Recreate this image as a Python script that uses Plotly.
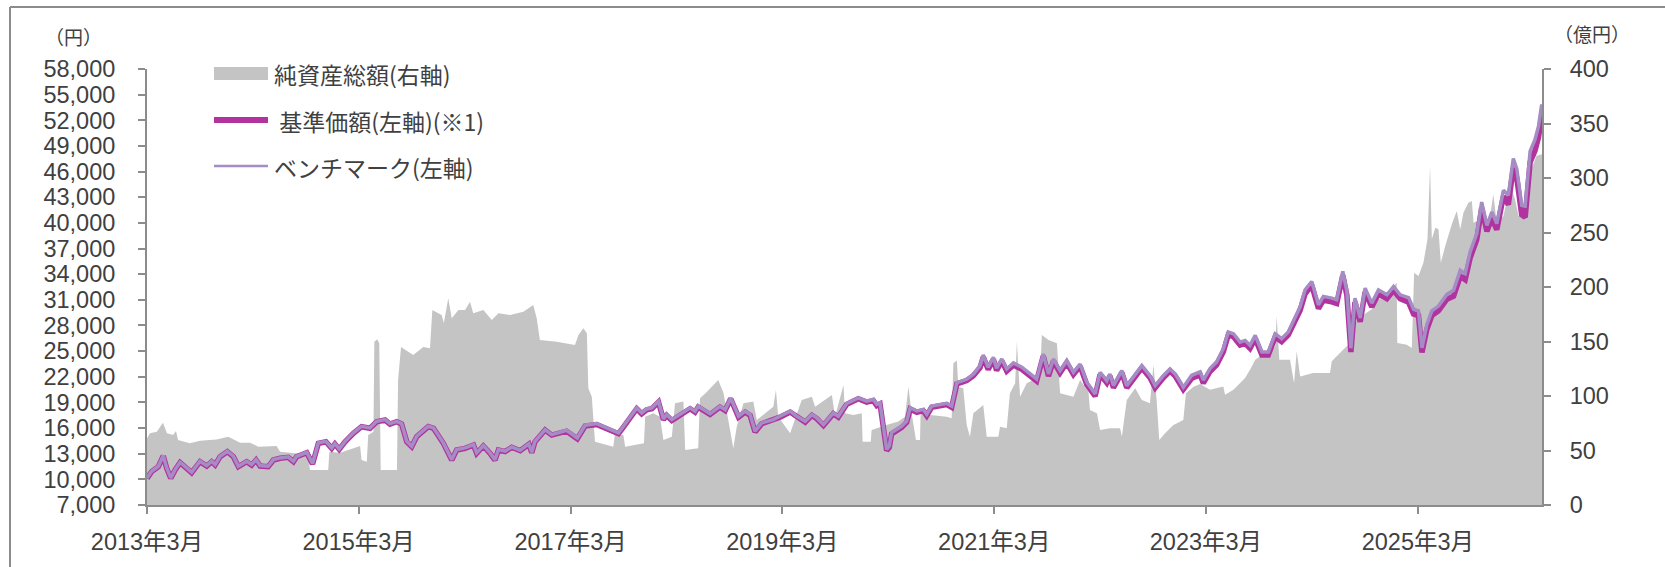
import plotly.graph_objects as go

# ---------------- data ----------------
# Net assets (億円, right axis)
na_dates = [
    "2013-03-01", "2013-03-11", "2013-04-04", "2013-04-25", "2013-05-09", "2013-05-30", "2013-06-09", "2013-06-16",
    "2013-07-27", "2013-08-31", "2013-10-27", "2013-12-06", "2014-01-16", "2014-02-19", "2014-03-20", "2014-05-22",
    "2014-06-03", "2014-07-24", "2014-08-22", "2014-09-08", "2014-09-14", "2014-11-16", "2014-11-20", "2014-12-27",
    "2015-02-11", "2015-03-06", "2015-03-11", "2015-03-29", "2015-04-03", "2015-04-21", "2015-04-24", "2015-05-04",
    "2015-05-11", "2015-05-16", "2015-07-11", "2015-07-15", "2015-07-25", "2015-09-05", "2015-10-10", "2015-11-02",
    "2015-11-10", "2015-12-12", "2015-12-20", "2016-01-04", "2016-01-16", "2016-02-08", "2016-03-02", "2016-03-19",
    "2016-03-30", "2016-05-04", "2016-06-02", "2016-06-25", "2016-08-04", "2016-09-19", "2016-10-23", "2016-11-04",
    "2016-11-15", "2017-01-12", "2017-03-16", "2017-03-28", "2017-04-14", "2017-04-26", "2017-05-01", "2017-05-13",
    "2017-05-24", "2017-07-26", "2017-08-01", "2017-08-30", "2017-09-05", "2017-11-09", "2017-11-13", "2017-12-11",
    "2018-01-03", "2018-01-15", "2018-02-13", "2018-02-24", "2018-03-25", "2018-03-31", "2018-05-15", "2018-05-21",
    "2018-06-11", "2018-07-23", "2018-08-10", "2018-09-13", "2018-09-25", "2018-10-18", "2018-11-21", "2018-12-03",
    "2019-01-29", "2019-02-07", "2019-02-15", "2019-03-28", "2019-05-07", "2019-06-11", "2019-06-22", "2019-07-26",
    "2019-08-19", "2019-08-30", "2019-09-28", "2019-10-03", "2019-11-01", "2019-11-30", "2019-12-03", "2019-12-31",
    "2020-01-03", "2020-02-24", "2020-04-04", "2020-04-27", "2020-05-09", "2020-05-20", "2020-06-04", "2020-06-18",
    "2020-06-20", "2020-07-23", "2020-09-18", "2020-10-05", "2020-10-11", "2020-10-23", "2020-10-28", "2020-11-14",
    "2020-11-26", "2020-12-07", "2020-12-19", "2021-01-22", "2021-02-03", "2021-03-15", "2021-03-21", "2021-04-13",
    "2021-04-24", "2021-05-12", "2021-05-18", "2021-05-29", "2021-06-21", "2021-08-06", "2021-08-12", "2021-09-04",
    "2021-10-03", "2021-10-14", "2021-11-29", "2021-12-22", "2022-01-20", "2022-01-25", "2022-02-18", "2022-03-01",
    "2022-04-04", "2022-05-09", "2022-05-15", "2022-06-01", "2022-06-30", "2022-07-23", "2022-08-20", "2022-09-01",
    "2022-09-12", "2022-09-21", "2022-10-11", "2022-11-09", "2022-12-13", "2022-12-22", "2023-01-17", "2023-02-09",
    "2023-03-15", "2023-04-30", "2023-05-06", "2023-06-04", "2023-07-14", "2023-07-31", "2023-08-18", "2023-09-04",
    "2023-10-08", "2023-10-26", "2023-10-31", "2023-11-09", "2023-12-16", "2023-12-30", "2024-01-08", "2024-01-20",
    "2024-03-05", "2024-05-02", "2024-05-08", "2024-06-05", "2024-07-10", "2024-08-02", "2024-09-06", "2024-09-29",
    "2024-10-16", "2024-11-14", "2024-12-07", "2024-12-18", "2024-12-20", "2025-01-22", "2025-02-08", "2025-02-16",
    "2025-03-03", "2025-03-20", "2025-04-03", "2025-04-12", "2025-04-18", "2025-04-30", "2025-05-11", "2025-05-19",
    "2025-06-03", "2025-06-26", "2025-07-13", "2025-07-25", "2025-08-05", "2025-08-22", "2025-09-03", "2025-09-09",
    "2025-10-02", "2025-10-19", "2025-11-05", "2025-11-16", "2025-11-28", "2025-12-21", "2026-01-13", "2026-01-30",
    "2026-02-11", "2026-03-06", "2026-03-23", "2026-04-14", "2026-05-03",
]
na_oku = [
    61.0, 65.8, 67.3, 75.5, 65.8, 64.2, 68.0, 59.6,
    56.6, 59.0, 60.2, 62.7, 57.2, 57.2, 53.5, 54.1,
    48.9, 47.4, 47.4, 44.3, 32.1, 32.1, 48.9, 48.0,
    52.0, 54.1, 41.3, 39.7, 64.2, 67.3, 149.8, 152.0,
    148.3, 32.1, 32.1, 115.0, 145.0, 137.6, 145.0, 143.7,
    178.9, 174.3, 167.0, 189.6, 171.3, 178.9, 178.9, 186.5,
    175.9, 178.9, 169.7, 175.9, 174.3, 177.4, 183.5, 171.3,
    151.4, 149.8, 146.8, 156.0, 162.1, 157.5, 107.0, 99.4,
    58.1, 53.5, 65.8, 64.2, 53.5, 56.6, 81.0, 84.1,
    81.0, 59.6, 62.7, 93.3, 94.9, 50.5, 52.0, 97.9,
    103.0, 114.7, 103.0, 52.0, 71.8, 93.3, 94.9, 78.0,
    90.2, 105.5, 81.0, 65.8, 96.3, 99.4, 90.2, 96.3,
    100.9, 81.0, 110.0, 84.1, 82.6, 84.1, 58.1, 58.1,
    68.8, 73.4, 76.5, 81.0, 108.6, 84.1, 59.6, 59.6,
    84.1, 82.6, 81.0, 79.5, 130.0, 132.5, 108.6, 107.0,
    73.4, 62.7, 84.1, 91.7, 62.7, 62.7, 71.8, 70.3,
    102.5, 111.7, 149.8, 99.4, 111.7, 117.8, 156.0, 151.4,
    148.3, 102.5, 99.4, 114.7, 104.0, 87.1, 84.1, 68.8,
    70.3, 70.3, 62.7, 96.3, 107.0, 96.3, 93.3, 128.4,
    96.3, 59.6, 65.8, 73.4, 78.0, 102.5, 108.6, 111.0,
    105.7, 108.8, 101.1, 105.7, 116.5, 124.1, 133.3, 136.4,
    139.5, 145.6, 173.2, 133.3, 133.3, 111.9, 141.0, 118.0,
    121.1, 121.1, 131.8, 139.5, 148.7, 170.1, 176.2, 180.8,
    188.5, 194.6, 200.8, 203.8, 148.7, 147.1, 144.1, 213.0,
    210.0, 222.2, 243.7, 311.1, 243.7, 254.4, 252.9, 222.2,
    237.5, 257.5, 269.7, 252.9, 268.2, 277.4, 278.9, 259.0,
    262.1, 255.9, 265.1, 285.0, 259.0, 265.1, 292.7, 280.4,
    265.1, 268.2, 305.0, 320.3, 321.8,
]

# NAV and benchmark (円, left axis)
price_dates = [
    "2013-03-01", "2013-03-17", "2013-04-09", "2013-04-26", "2013-05-08", "2013-05-22", "2013-06-06", "2013-06-23", "2013-07-16", "2013-08-02",
    "2013-08-31", "2013-09-23", "2013-10-10", "2013-10-22", "2013-11-08", "2013-12-03", "2013-12-24", "2014-01-10", "2014-02-08", "2014-02-25",
    "2014-03-12", "2014-03-26", "2014-04-23", "2014-05-11", "2014-06-03", "2014-07-01", "2014-07-19", "2014-07-30", "2014-09-03", "2014-09-23",
    "2014-10-13", "2014-11-08", "2014-11-28", "2014-12-09", "2014-12-24", "2015-01-13", "2015-02-11", "2015-03-11", "2015-04-09", "2015-05-02",
    "2015-05-31", "2015-06-17", "2015-07-10", "2015-07-27", "2015-08-14", "2015-08-31", "2015-09-17", "2015-10-27", "2015-11-14", "2015-12-18",
    "2016-01-16", "2016-02-02", "2016-03-02", "2016-03-31", "2016-04-11", "2016-05-04", "2016-05-27", "2016-06-13", "2016-06-25", "2016-07-18",
    "2016-08-10", "2016-09-08", "2016-10-08", "2016-10-18", "2016-10-29", "2016-12-03", "2016-12-26",
    "2017-02-15", "2017-03-24", "2017-04-20", "2017-05-30", "2017-06-22", "2017-07-15", "2017-08-13", "2017-08-30", "2017-10-15", "2017-11-01",
    "2017-11-18", "2017-12-06", "2017-12-29", "2018-01-15", "2018-01-26", "2018-02-13", "2018-03-02", "2018-04-17", "2018-05-04", "2018-05-15",
    "2018-06-25", "2018-07-29", "2018-08-16", "2018-09-04", "2018-10-01", "2018-10-24", "2018-11-10", "2018-11-27", "2018-12-20", "2019-01-29",
    "2019-02-21", "2019-03-28", "2019-04-20", "2019-05-19", "2019-06-11", "2019-06-28", "2019-07-21", "2019-08-24", "2019-09-10", "2019-10-09",
    "2019-11-18", "2019-12-17",
    "2020-01-09", "2020-01-21", "2020-02-01", "2020-02-13", "2020-02-24", "2020-03-04", "2020-03-12", "2020-04-16", "2020-05-03", "2020-05-15",
    "2020-06-07", "2020-06-29", "2020-07-11", "2020-07-28", "2020-08-26", "2020-09-18", "2020-10-05", "2020-10-23", "2020-11-26", "2020-12-19",
    "2021-01-11", "2021-01-22", "2021-02-08", "2021-02-26", "2021-03-09", "2021-03-27", "2021-04-13", "2021-05-06", "2021-06-04", "2021-07-08",
    "2021-07-25", "2021-08-17", "2021-09-04", "2021-09-21", "2021-10-14", "2021-11-06", "2021-11-29", "2021-12-22", "2022-01-14", "2022-02-12",
    "2022-03-01", "2022-03-24", "2022-04-04", "2022-04-16", "2022-05-15", "2022-06-01", "2022-06-24", "2022-07-23", "2022-08-20", "2022-09-07",
    "2022-10-05", "2022-10-28", "2022-11-15", "2022-12-13",
    "2023-01-11", "2023-02-09", "2023-02-20", "2023-03-15", "2023-04-07", "2023-04-30", "2023-05-17", "2023-06-04", "2023-06-27", "2023-07-14",
    "2023-07-31", "2023-08-18", "2023-09-10", "2023-10-02", "2023-10-26", "2023-11-17", "2023-12-10", "2023-12-28",
    "2024-01-20", "2024-02-06", "2024-02-29", "2024-03-23", "2024-04-09", "2024-05-08", "2024-05-25", "2024-06-15", "2024-06-29", "2024-07-13",
    "2024-07-27", "2024-08-14", "2024-08-31", "2024-09-23", "2024-10-16", "2024-11-14", "2024-12-07", "2024-12-30",
    "2025-01-28", "2025-02-14", "2025-03-03", "2025-03-15", "2025-04-01", "2025-04-18", "2025-05-11", "2025-06-09",
    "2025-07-02", "2025-07-25", "2025-08-11", "2025-08-28", "2025-09-20", "2025-10-07", "2025-10-25", "2025-11-11", "2025-11-28", "2025-12-21",
    "2026-01-07", "2026-01-24", "2026-02-05", "2026-02-22", "2026-03-06", "2026-03-23", "2026-04-09", "2026-04-21", "2026-05-02", "2026-05-03",
]
fund_nav = [
    10120, 10900, 11480, 12730, 11290, 10120, 11090, 11950, 11290, 10780,
    12070, 11560, 12070, 11680, 12650, 13240, 12650, 11480, 12070, 11680,
    12260, 11560, 11480, 12260, 12460, 12580, 12070, 12650, 13120, 11800,
    14220, 14400, 13630, 14140, 13520, 14400, 15390, 16160, 15970, 16740,
    16940, 16470, 16740, 16470, 14400, 13820, 14990, 16160, 15970, 14220,
    12260, 13430, 13630, 14020, 13050, 13900, 13050, 12260, 13430, 13240,
    13750, 13350, 14100, 13120, 14400, 15770, 15180,
    15640, 14750, 16230, 16420, 16110, 15720, 15340, 16110, 18260, 17670,
    18140, 18260, 19040, 16980, 17480, 16890, 17280, 18260, 17870, 18450,
    17590, 18450, 18060, 19430, 17280, 17870, 17480, 15530, 16500, 16890,
    17280, 17870, 17280, 16690, 17480, 17090, 16310, 17670, 17280, 18770,
    19430, 19040,
    19205, 18625, 18825, 16085, 13355, 13745, 15315, 16085, 16665, 18235,
    17845, 18035, 17455, 18425, 18625, 18745, 18425, 21165, 21555, 22135,
    23055, 24305, 22865, 24035, 22745, 23835, 22665, 23365, 22865, 21875,
    21505, 24425, 22085, 23835, 22475, 23635, 22275, 23245, 21115, 19745,
    22275, 21295, 22085, 20715, 22475, 20715, 21695, 23055, 21875, 20715,
    21875, 22665, 22085, 20525,
    21825, 22225, 21245, 22615, 23395, 24935, 26885, 26685, 25705, 25905,
    25325, 26485, 24545, 24545, 26685, 26105, 26885, 28265,
    29765, 31715, 32695, 29975, 30955, 30755, 30565, 33875, 31545, 24885,
    30755, 28415, 31915, 30165, 31715, 31135, 32105, 31135,
    30705, 29345, 29155, 24835, 27565, 29155, 29715, 31085,
    31420, 33750, 33360, 35890, 38040, 41740, 39010, 40570, 39210, 43110,
    42130, 46420, 45250, 40960, 40660, 47100, 48460, 50020, 52550, 51580,
]
bench_nav = [
    10170, 10950, 11530, 12780, 11340, 10170, 11140, 12000, 11340, 10830,
    12120, 11610, 12120, 11730, 12700, 13290, 12700, 11530, 12120, 11730,
    12310, 11610, 11530, 12310, 12510, 12630, 12120, 12700, 13170, 11850,
    14270, 14450, 13680, 14190, 13570, 14450, 15440, 16210, 16020, 16790,
    16990, 16520, 16790, 16520, 14450, 13870, 15040, 16210, 16020, 14270,
    12310, 13480, 13680, 14070, 13100, 13950, 13100, 12310, 13480, 13290,
    13800, 13400, 14150, 13170, 14450, 15820, 15230,
    15740, 14850, 16330, 16520, 16210, 15820, 15440, 16210, 18360, 17770,
    18240, 18360, 19140, 17080, 17580, 16990, 17380, 18360, 17970, 18550,
    17690, 18550, 18160, 19530, 17380, 17970, 17580, 15630, 16600, 16990,
    17380, 17970, 17380, 16790, 17580, 17190, 16410, 17770, 17380, 18870,
    19530, 19140,
    19355, 18775, 18975, 16235, 13505, 13895, 15465, 16235, 16815, 18385,
    17995, 18185, 17605, 18575, 18775, 18895, 18575, 21315, 21705, 22285,
    23305, 24555, 23115, 24285, 22995, 24085, 22915, 23615, 23115, 22125,
    21755, 24675, 22335, 24085, 22725, 23885, 22525, 23495, 21365, 19995,
    22525, 21545, 22335, 20965, 22725, 20965, 21945, 23305, 22125, 20965,
    22125, 22915, 22335, 20775,
    22175, 22575, 21595, 22965, 23745, 25285, 27235, 27035, 26055, 26255,
    25675, 26835, 24895, 24895, 27035, 26455, 27235, 28615,
    30215, 32165, 33145, 30425, 31405, 31205, 31015, 34325, 31995, 25335,
    31205, 28865, 32365, 30615, 32165, 31585, 32555, 31585,
    31255, 29895, 29705, 25385, 28115, 29705, 30265, 31635,
    32120, 34450, 34060, 36590, 38740, 42440, 39710, 41270, 39910, 43810,
    43230, 47520, 46350, 42060, 41960, 48400, 49760, 51320, 53850, 52880,
]

x_tick_dates = ["2013-03-01", "2015-03-01", "2017-03-01", "2019-03-01", "2021-03-01", "2023-03-01", "2025-03-01"]
x_tick_labels = ["2013年3月", "2015年3月", "2017年3月", "2019年3月", "2021年3月", "2023年3月", "2025年3月"]
x_range = ["2013-03-01", "2026-05-03"]
left_ticks = list(range(7000, 58001, 3000))
right_ticks = list(range(0, 401, 50))

legend_labels = ["純資産総額(右軸)", " 基準価額(左軸)(※1)", "ベンチマーク(左軸)"]
left_unit = "（円）"
right_unit = "（億円）"

# ---------------- style ----------------
W, H = 1665, 567
L, R, T, B = 147, 1542, 69, 505
AX = "#8c8c8c"
TXT = "#404040"
GRAY = "#c4c4c4"
MAG = "#b2329f"
LAV = "#a58cc4"
TICKFONT = dict(family="Liberation Sans, Arial, 'Noto Sans CJK JP', sans-serif", size=23.5, color=TXT)
JPFONT = dict(family="'Noto Sans CJK JP', 'Liberation Sans', sans-serif", size=23, color=TXT)


def px_x(p):
    return (p - L) / (R - L)


def px_y(p):
    return (B - p) / (B - T)


fig = go.Figure()
fig.add_trace(go.Scatter(x=na_dates, y=na_oku, yaxis="y", mode="lines", fill="tozeroy",
                         line=dict(width=0, color=GRAY), fillcolor=GRAY, showlegend=False, name=legend_labels[0]))
fig.add_trace(go.Scatter(x=price_dates, y=fund_nav, yaxis="y2", mode="lines",
                         line=dict(width=5.5, color=MAG), showlegend=False, name=legend_labels[1]))
fig.add_trace(go.Scatter(x=price_dates, y=bench_nav, yaxis="y2", mode="lines",
                         line=dict(width=3.5, color=LAV), showlegend=False, name=legend_labels[2]))

axis_common = dict(showline=True, linecolor=AX, linewidth=2, ticks="outside", ticklen=7, tickwidth=2,
                   tickcolor=AX, showgrid=False, zeroline=False, tickfont=TICKFONT, automargin=False)

fig.update_layout(
    width=W, height=H,
    margin=dict(l=L, r=W - R, t=T, b=H - B, pad=0, autoexpand=False),
    paper_bgcolor="white", plot_bgcolor="white",
    showlegend=False,
    xaxis=dict(type="date", range=x_range, tickmode="array", tickvals=x_tick_dates, ticktext=x_tick_labels,
               ticklabelstandoff=8, **axis_common),
    yaxis=dict(side="right", range=[0, 400], tickmode="array", tickvals=right_ticks,
               ticklabelstandoff=14, **axis_common),
    yaxis2=dict(side="left", overlaying="y", range=[7000, 58000], tickmode="array", tickvals=left_ticks,
                tickformat=",d", ticklabelstandoff=18, **axis_common),
)

shapes = [
    # outer frame (top & left visible)
    dict(type="line", xref="paper", yref="paper", x0=px_x(10), x1=px_x(1675), y0=px_y(7), y1=px_y(7),
         line=dict(color=AX, width=2)),
    dict(type="line", xref="paper", yref="paper", x0=px_x(10), x1=px_x(10), y0=px_y(7), y1=px_y(580),
         line=dict(color=AX, width=2)),
    # legend swatches
    dict(type="rect", xref="paper", yref="paper", x0=px_x(214), x1=px_x(268), y0=px_y(80), y1=px_y(67),
         line=dict(width=0), fillcolor=GRAY),
    dict(type="line", xref="paper", yref="paper", x0=px_x(214), x1=px_x(268), y0=px_y(120), y1=px_y(120),
         line=dict(color=MAG, width=6)),
    dict(type="line", xref="paper", yref="paper", x0=px_x(214), x1=px_x(268), y0=px_y(166), y1=px_y(166),
         line=dict(color=LAV, width=2.5)),
]
fig.update_layout(shapes=shapes)

annots = [
    dict(text=legend_labels[0], x=px_x(272), y=px_y(74)),
    dict(text=legend_labels[1], x=px_x(272), y=px_y(121)),
    dict(text=legend_labels[2], x=px_x(272), y=px_y(167.5)),
]
for a in annots:
    fig.add_annotation(xref="paper", yref="paper", xanchor="left", yanchor="middle", showarrow=False,
                       font=JPFONT, **a)
fig.add_annotation(text=left_unit, xref="paper", yref="paper", x=px_x(73), y=px_y(36), xanchor="center",
                   yanchor="middle", showarrow=False, font=dict(JPFONT, size=19))
fig.add_annotation(text=right_unit, xref="paper", yref="paper", x=px_x(1592), y=px_y(33), xanchor="center",
                   yanchor="middle", showarrow=False, font=dict(JPFONT, size=19))

fig.write_html("out.html", config={"displayModeBar": False},
               post_script="document.body.style.margin='0px';")
